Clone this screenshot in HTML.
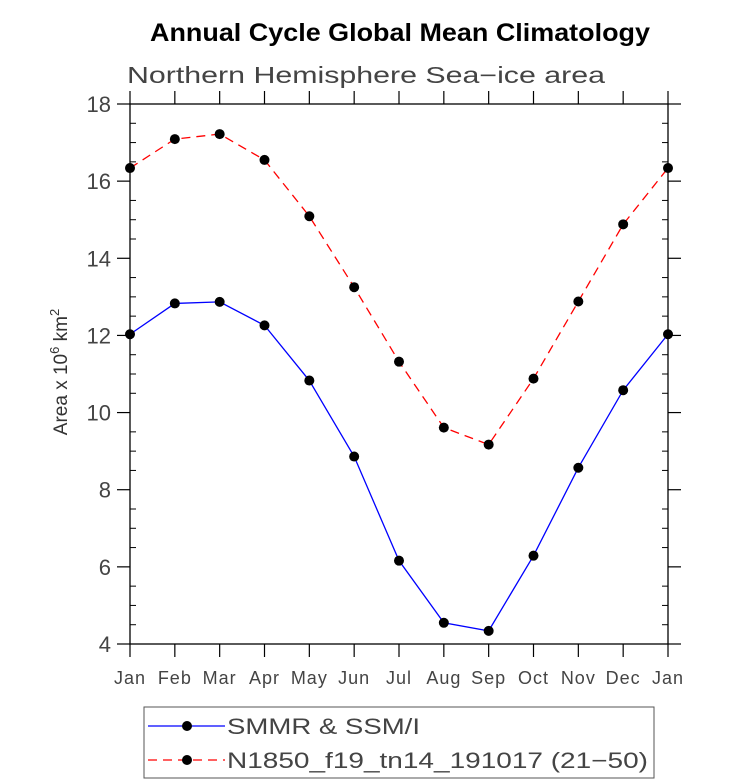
<!DOCTYPE html>
<html><head><meta charset="utf-8"><style>
html,body{margin:0;padding:0;background:#fff;}
svg{display:block;font-family:"Liberation Sans",sans-serif;}
</style></head><body>
<svg id="chart" width="732" height="784" viewBox="0 0 732 784">
<text x="150" y="41" font-size="25" font-weight="bold" textLength="500" lengthAdjust="spacingAndGlyphs">Annual Cycle Global Mean Climatology</text>
<text x="127" y="83" font-size="23" fill="#444" textLength="478" lengthAdjust="spacingAndGlyphs">Northern Hemisphere Sea−ice area</text>
<g id="axes"></g>
<g id="series"></g>
<text transform="translate(67,372) rotate(-90)" text-anchor="middle" font-size="19" fill="#333">Area x 10<tspan dy="-8" font-size="13">6</tspan><tspan dy="8"> km</tspan><tspan dy="-8" font-size="13">2</tspan></text>
<g>
<rect x="144" y="707" width="510" height="71" fill="none" stroke="#555" stroke-width="1"/>
<g>
<line x1="148" y1="726" x2="225" y2="726" stroke="#00f" stroke-width="1.3"/>
<circle cx="187" cy="726" r="5" fill="#000"/>
<text x="227" y="734" font-size="22" fill="#444" textLength="193" lengthAdjust="spacingAndGlyphs">SMMR &amp; SSM/I</text>
</g>
<g>
<line x1="148" y1="760" x2="225" y2="760" stroke="#f00" stroke-width="1.3" stroke-dasharray="9,6"/>
<circle cx="187" cy="760" r="5" fill="#000"/>
<text x="227" y="768" font-size="22" fill="#444" textLength="421" lengthAdjust="spacingAndGlyphs">N1850_f19_tn14_191017 (21−50)</text>
</g>
</g>
</svg>
<script>
const months = ["Jan","Feb","Mar","Apr","May","Jun","Jul","Aug","Sep","Oct","Nov","Dec","Jan"];
const obsValues = [12.03,12.83,12.87,12.26,10.83,8.86,6.16,4.55,4.34,6.29,8.57,10.58,12.03];
const modelValues = [16.34,17.09,17.22,16.55,15.09,13.25,11.32,9.61,9.17,10.88,12.88,14.88,16.34];
const yTicks = [4,6,8,10,12,14,16,18];

const L=130,R=668,T=104,B=644,yMin=4,yMax=18;
const xs=i=>L+(R-L)*i/12;
const ys=v=>B-(B-T)*(v-yMin)/(yMax-yMin);
const NS="http://www.w3.org/2000/svg";
function mk(tag,attrs,parent){const e=document.createElementNS(NS,tag);for(const k in attrs)e.setAttribute(k,attrs[k]);parent.appendChild(e);return e;}
const axes=document.getElementById('axes');
const frame=mk('rect',{x:L,y:T,width:R-L,height:B-T,fill:'none',stroke:'#000','stroke-width':1.3},axes);


months.forEach((m,i)=>{
  const x=xs(i);
  mk('line',{x1:x,y1:B,x2:x,y2:B+13,stroke:'#000','stroke-width':1.2},axes);
  mk('line',{x1:x,y1:T,x2:x,y2:T-13,stroke:'#000','stroke-width':1.2},axes);
  const t=mk('text',{x:x,y:B+40,'text-anchor':'middle','font-size':18,fill:'#444','letter-spacing':1},axes);
  t.textContent=m;
  
  
});
for(let v=yMin;v<=yMax;v+=0.5){
  const y=ys(v);
  if(Math.abs(v-Math.round(v/2)*2)<1e-6){
    mk('line',{x1:L,y1:y,x2:L-13,y2:y,stroke:'#000','stroke-width':1.2},axes);
    mk('line',{x1:R,y1:y,x2:R+13,y2:y,stroke:'#000','stroke-width':1.2},axes);
  } else {
    mk('line',{x1:L,y1:y,x2:L+6,y2:y,stroke:'#000','stroke-width':1},axes);
    mk('line',{x1:R,y1:y,x2:R-6,y2:y,stroke:'#000','stroke-width':1},axes);
  }
}
yTicks.forEach(v=>{
  const t=mk('text',{x:L-19,y:ys(v)+8,'text-anchor':'end','font-size':22,fill:'#444'},axes);
  t.textContent=v;
  
  
});
const ser=document.getElementById('series');
function draw(vals,color,dash,name){
  const g=mk('g',{},ser);
  
  
  const p=mk('polyline',{points:vals.map((v,i)=>xs(i)+','+ys(v)).join(' '),fill:'none',stroke:color,'stroke-width':1.3},g);
  if(dash)p.setAttribute('stroke-dasharray',dash);
  vals.forEach((v,i)=>{
    const c=mk('circle',{cx:xs(i),cy:ys(v),r:5,fill:'#000'},g);
    
    
  });
}
draw(obsValues,'#00f',null,'obs-series');
draw(modelValues,'#f00','9,6','model-series');
</script>
</body></html>
